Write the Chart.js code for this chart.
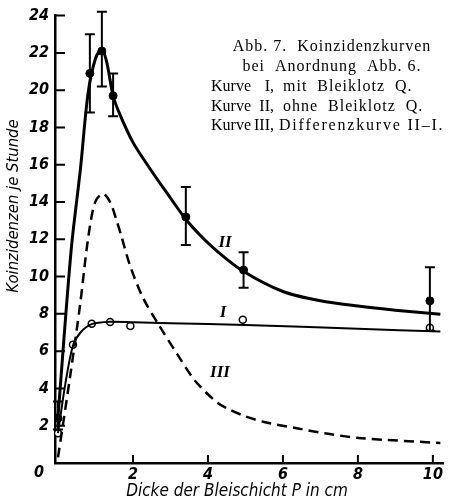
<!DOCTYPE html>
<html>
<head>
    <title>Koinzidenzkurven</title>
    <script src="https://cdn.jsdelivr.net/npm/chart.js"></script>
    <style>
        body { margin: 0; background: #fff; }
    </style>
</head>
<body>
    <canvas id="myChart" width="455" height="504"></canvas>

    <script>
        // Kurve II (ohne Bleiklotz), drawn line
        var curveIIx = [0, 0.35, 0.6, 0.8, 1.0, 1.17, 1.3, 1.47, 1.65, 2.0, 2.45, 2.9, 3.4, 3.8, 4.25, 4.93, 6.0, 7.0, 8.0, 9.0, 10.2];
        var curveIIy = [2.5, 11.4, 15.8, 19.8, 21.7, 22.2, 21.5, 19.7, 18.7, 17.2, 15.8, 14.5, 13.1, 12.2, 11.35, 10.3, 9.2, 8.7, 8.42, 8.2, 7.98];

        // Kurve I (mit Bleiklotz), drawn line
        var curveIx = [0, 0.2, 0.4, 0.6, 0.9, 1.4, 2.0, 3.0, 5.0, 8.0, 10.2];
        var curveIy = [1.6, 4.3, 6.3, 7.0, 7.45, 7.58, 7.55, 7.5, 7.4, 7.2, 7.05];

        // Kurve III (Differenzkurve II-I), dashed
        var curveIIIx = [0, 0.32, 0.59, 0.8, 0.99, 1.2, 1.39, 1.55, 1.7, 1.92, 2.27, 2.67, 3.17, 3.65, 4.24, 4.6, 5.0, 5.5, 6.4, 7.25, 8.1, 10.2];
        var curveIIIy = [0.3, 4.6, 8.5, 12.0, 14.0, 14.45, 14.0, 13.1, 12.1, 10.6, 8.85, 7.47, 5.87, 4.43, 3.25, 2.85, 2.5, 2.2, 1.85, 1.55, 1.33, 1.07];

        // measured points, curve II (filled) with error bars
        var pointsIIx = [0, 0.85, 1.17, 1.47, 3.41, 4.95, 9.92];
        var pointsIIy = [2.4, 20.9, 22.1, 19.7, 13.2, 10.35, 8.7];
        var errIIlow = [1.8, 18.8, 20.2, 18.6, 11.7, 9.4, 7.1];
        var errIIhigh = [3.3, 23.0, 24.2, 20.9, 14.8, 11.3, 10.5];

        // measured points, curve I (open)
        var pointsIx = [0, 0.4, 0.9, 1.39, 1.93, 4.93, 9.92];
        var pointsIy = [1.6, 6.35, 7.47, 7.57, 7.35, 7.68, 7.25];

        var xTicks = [2, 4, 6, 8, 10];
        var yTicks = [2, 4, 6, 8, 10, 12, 14, 16, 18, 20, 22, 24];

        var captionLines = ['Abb. 7.  Koinzidenzkurven', 'bei  Anordnung  Abb. 6.'];
        var curveNames = ['I,', 'II,', 'III,'];
        var curveTexts = ['mit  Bleiklotz  Q.', 'ohne  Bleiklotz  Q.', 'Differenzkurve II\u2013I.'];

        var sansFont = '"DejaVu Sans Condensed", "Liberation Sans Narrow", sans-serif';
        var serifFont = '"Liberation Serif", "DejaVu Serif", serif';

        function toXY(xs, ys) {
            return xs.map(function (x, i) { return { x: x, y: ys[i] }; });
        }

        var extras = {
            id: 'extras',
            afterDatasetsDraw: function (chart) {
                var c = chart.ctx;
                var xs = chart.scales.x, ys = chart.scales.y;
                var area = chart.chartArea;
                c.save();
                c.strokeStyle = '#000';
                c.fillStyle = '#000';

                // error bars
                c.lineWidth = 2;
                for (var i = 0; i < pointsIIx.length; i++) {
                    var px = xs.getPixelForValue(pointsIIx[i]);
                    var lo = ys.getPixelForValue(errIIlow[i]);
                    var hi = ys.getPixelForValue(errIIhigh[i]);
                    c.beginPath();
                    c.moveTo(px, lo); c.lineTo(px, hi);
                    c.moveTo(px - 5, lo); c.lineTo(px + 5, lo);
                    c.moveTo(px - 5, hi); c.lineTo(px + 5, hi);
                    c.stroke();
                }

                // inward tick marks
                c.lineWidth = 2;
                c.beginPath();
                yTicks.forEach(function (v) {
                    var py = ys.getPixelForValue(v);
                    c.moveTo(area.left, py); c.lineTo(area.left + 10, py);
                });
                xTicks.forEach(function (v) {
                    var px = xs.getPixelForValue(v);
                    c.moveTo(px, area.bottom); c.lineTo(px, area.bottom - 8);
                });
                c.stroke();

                // shared zero at the corner
                c.font = 'italic bold 16px ' + sansFont;
                c.textAlign = 'center';
                c.textBaseline = 'middle';
                c.fillText('0', 39, 473);

                // axis titles
                c.font = 'italic 17px ' + sansFont;
                c.fillText('Dicke der Bleischicht P in cm', 237, 492);
                c.save();
                c.translate(14, 206);
                c.rotate(-Math.PI / 2);
                c.font = 'italic 16.5px ' + sansFont;
                c.fillText('Koinzidenzen je Stunde', 0, 0);
                c.restore();

                // curve labels
                c.font = 'italic bold 17px ' + serifFont;
                c.fillText('II', 225, 243);
                c.fillText('I', 223, 313);
                c.fillText('III', 220, 373);

                // caption
                c.font = '16px ' + serifFont;
                c.letterSpacing = '1px';
                c.fillText(captionLines[0], 332, 47);
                c.fillText(captionLines[1], 332, 67);
                for (var k = 0; k < 3; k++) {
                    var ty = 87 + k * 19.5;
                    c.letterSpacing = '0px';
                    c.textAlign = 'left';
                    c.fillText('Kurve', 211, ty);
                    c.textAlign = 'right';
                    c.fillText(curveNames[k], 274, ty);
                    c.textAlign = 'left';
                    c.letterSpacing = k === 2 ? '1.8px' : '1px';
                    c.fillText(curveTexts[k], k === 2 ? 279 : 283, ty);
                }
                c.restore();
            }
        };

        var ctx = document.getElementById('myChart').getContext('2d');
        var myChart = new Chart(ctx, {
            type: 'scatter',
            data: {
                datasets: [
                    {
                        label: 'Kurve II',
                        data: toXY(curveIIx, curveIIy),
                        showLine: true,
                        borderColor: '#000',
                        borderWidth: 3,
                        pointRadius: 0,
                        tension: 0.3
                    },
                    {
                        label: 'Kurve I',
                        data: toXY(curveIx, curveIy),
                        showLine: true,
                        borderColor: '#000',
                        borderWidth: 2,
                        pointRadius: 0,
                        tension: 0.3
                    },
                    {
                        label: 'Kurve III',
                        data: toXY(curveIIIx, curveIIIy),
                        showLine: true,
                        borderColor: '#000',
                        borderWidth: 2.5,
                        borderDash: [10, 6],
                        pointRadius: 0,
                        tension: 0.3
                    },
                    {
                        label: 'Messpunkte II',
                        data: toXY(pointsIIx, pointsIIy),
                        backgroundColor: '#000',
                        borderColor: '#000',
                        pointRadius: 4,
                        borderWidth: 1
                    },
                    {
                        label: 'Messpunkte I',
                        data: toXY(pointsIx, pointsIy),
                        backgroundColor: '#fff',
                        borderColor: '#000',
                        pointRadius: 3.5,
                        borderWidth: 1.5
                    }
                ]
            },
            options: {
                responsive: false,
                animation: false,
                devicePixelRatio: 1,
                layout: { padding: { left: 0, top: 13, right: 12, bottom: 0 } },
                plugins: {
                    legend: { display: false },
                    tooltip: { enabled: false }
                },
                scales: {
                    x: {
                        type: 'linear',
                        min: -0.08,
                        max: 10.27,
                        afterBuildTicks: function (s) {
                            s.ticks = xTicks.map(function (v) { return { value: v }; });
                        },
                        afterFit: function (s) { s.height = 41; },
                        grid: { display: true, drawOnChartArea: false, drawTicks: false },
                        border: { display: true, color: '#000', width: 2.5 },
                        ticks: {
                            color: '#000',
                            padding: 2,
                            maxRotation: 0,
                            font: { family: sansFont, size: 16, style: 'italic', weight: 'bold' }
                        }
                    },
                    y: {
                        type: 'linear',
                        min: 0,
                        max: 24,
                        afterBuildTicks: function (s) {
                            s.ticks = yTicks.map(function (v) { return { value: v }; });
                        },
                        afterFit: function (s) { s.width = 55; },
                        grid: { display: true, drawOnChartArea: false, drawTicks: false },
                        border: { display: true, color: '#000', width: 2.5 },
                        ticks: {
                            color: '#000',
                            padding: 6,
                            font: { family: sansFont, size: 16, style: 'italic', weight: 'bold' }
                        }
                    }
                }
            },
            plugins: [extras]
        });
    </script>
</body>
</html>
